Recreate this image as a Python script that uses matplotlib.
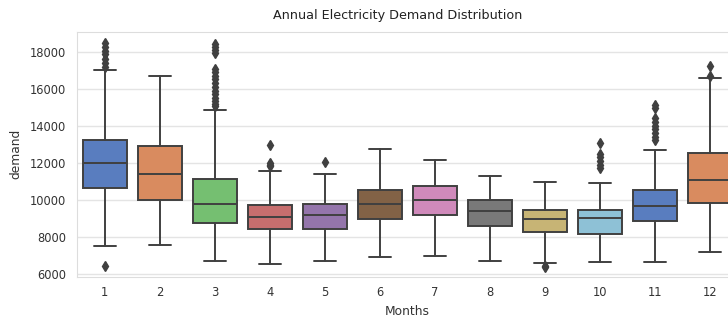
import matplotlib
matplotlib.use("Agg")
import matplotlib.pyplot as plt
import seaborn as sns

months = ["1", "2", "3", "4", "5", "6", "7", "8", "9", "10", "11", "12"]
q1 = [10650, 9970, 8740, 8420, 8420, 8940, 9170, 8580, 8250, 8170, 8870, 9850]
median = [11990, 11390, 9790, 9070, 9160, 9750, 9970, 9410, 8960, 9010, 9660, 11090]
q3 = [13220, 12930, 11150, 9700, 9750, 10510, 10730, 9970, 9430, 9430, 10530, 12550]
whisker_low = [7520, 7570, 6670, 6540, 6720, 6900, 6940, 6680, 6570, 6630, 6630, 7170]
whisker_high = [17000, 16690, 14850, 11540, 11380, 12730, 12150, 11270, 10960, 10910, 12680, 16600]
outliers = [
    [18450, 18250, 18050, 17850, 17600, 17400, 17200, 6450],
    [],
    [18400, 18250, 18100, 17950, 17050, 16900, 16700, 16500, 16300, 16100,
     15900, 15700, 15500, 15350, 15200, 15050],
    [12950, 12000, 11900, 11800],
    [12050],
    [],
    [],
    [],
    [6450, 6350],
    [13050, 12500, 12300, 12100, 11900, 11700],
    [15100, 14950, 14400, 14200, 14000, 13800, 13600, 13400, 13250],
    [17250, 16700],
]

sns.set_style("whitegrid")
plt.rcParams["font.family"] = ["DejaVu Sans"]

palette = sns.color_palette("muted", 10)
colors = [sns.desaturate(palette[i % 10], 0.75) for i in range(len(months))]

stats = []
for i, m in enumerate(months):
    stats.append(dict(label=m, q1=q1[i], med=median[i], q3=q3[i],
                      whislo=whisker_low[i], whishi=whisker_high[i],
                      fliers=outliers[i]))

fig = plt.figure(figsize=(7.28, 3.22), dpi=100)
ax = fig.add_axes([77 / 728, 1 - 277 / 322, 661 / 728, (277 - 31.7) / 322])

line_col = "#404040"
lw = 1.4
bp = ax.bxp(stats, positions=range(len(months)), widths=0.8, patch_artist=True,
            boxprops=dict(edgecolor=line_col, linewidth=lw),
            medianprops=dict(color=line_col, linewidth=lw),
            whiskerprops=dict(color=line_col, linewidth=lw),
            capprops=dict(color=line_col, linewidth=lw),
            flierprops=dict(marker="d", markerfacecolor=line_col,
                            markeredgecolor=line_col, markersize=5),
            capwidths=0.4)
for patch, c in zip(bp["boxes"], colors):
    patch.set_facecolor(c)

ax.set_xlim(-0.5, len(months) - 0.5)
ax.set_ylim(5830, 19080)
ax.set_yticks([6000, 8000, 10000, 12000, 14000, 16000, 18000])
ax.set_xticks(range(len(months)))
ax.set_xticklabels(months)
ax.xaxis.grid(False)
ax.yaxis.grid(True, color="#e4e4e4", linewidth=1.0)
for s in ax.spines.values():
    s.set_color("#dddddd")
ax.tick_params(axis="y", labelsize=8.3, colors="#333333", length=0, pad=8)
ax.tick_params(axis="x", labelsize=8.3, colors="#333333", length=0, pad=6.5)
ax.set_xlabel("Months", fontsize=8.8, color="#333333", labelpad=4)
ax.set_ylabel("demand", fontsize=8.8, color="#333333", labelpad=5)
fig.text(398 / 728, 1 - 15 / 322, "Annual Electricity Demand Distribution",
         ha="center", va="center", fontsize=9.2, color="#222222")

fig.savefig("out.png", dpi=100)
